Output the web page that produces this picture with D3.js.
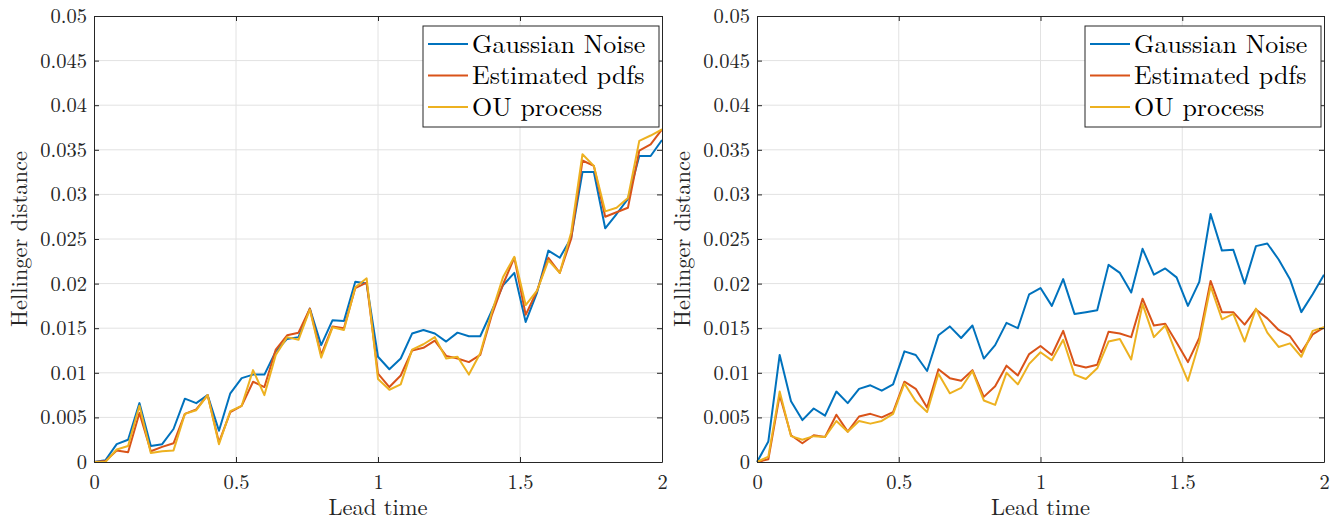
<!DOCTYPE html>
<html>
<head>
<meta charset="utf-8">
<script src="https://cdn.jsdelivr.net/npm/d3@7"></script>
<style>
  body { margin: 0; background: #fff; }
  svg { display: block; }
</style>
</head>
<body>
<svg id="viz" width="1337" height="521"></svg>
<script>
// lead times (x values)
const leadTime = [0, 0.04, 0.08, 0.12, 0.16, 0.2, 0.24, 0.28, 0.32, 0.36, 0.4, 0.44, 0.48, 0.52, 0.56, 0.6,
  0.64, 0.68, 0.72, 0.76, 0.8, 0.84, 0.88, 0.92, 0.96, 1, 1.04, 1.08, 1.12, 1.16, 1.2, 1.24, 1.28, 1.32,
  1.36, 1.4, 1.44, 1.48, 1.52, 1.56, 1.6, 1.64, 1.68, 1.72, 1.76, 1.8, 1.84, 1.88, 1.92, 1.96, 2];

const seriesNames = ["Gaussian Noise", "Estimated pdfs", "OU process"];

// left panel
const leftGauss = [0, 0.0002, 0.002, 0.0025, 0.0066, 0.0018, 0.002, 0.0037, 0.0071, 0.0066, 0.0075, 0.0035,
  0.0077, 0.0094, 0.0098, 0.0098, 0.0124, 0.0138, 0.014, 0.0172, 0.0131, 0.0159, 0.0158, 0.0202, 0.02,
  0.0118, 0.0104, 0.0116, 0.0144, 0.0148, 0.0144, 0.0135, 0.0145, 0.0141, 0.0141, 0.0169, 0.0198, 0.0212,
  0.0157, 0.019, 0.0237, 0.0229, 0.0251, 0.0325, 0.0325, 0.0262, 0.0278, 0.0295, 0.0343, 0.0343, 0.0361];
const leftEst = [0, 0.0001, 0.0013, 0.0011, 0.0055, 0.0012, 0.0017, 0.0021, 0.0054, 0.0059, 0.0075, 0.0022,
  0.0056, 0.0063, 0.009, 0.0084, 0.0126, 0.0142, 0.0145, 0.0172, 0.012, 0.0152, 0.015, 0.0195, 0.0201,
  0.0099, 0.0084, 0.0097, 0.0125, 0.0128, 0.0136, 0.0119, 0.0116, 0.0112, 0.012, 0.0164, 0.0199, 0.0229,
  0.0165, 0.0192, 0.0229, 0.0212, 0.025, 0.0338, 0.0332, 0.0275, 0.028, 0.0285, 0.0349, 0.0356, 0.0373];
const leftOU = [0, 0, 0.0014, 0.0018, 0.0063, 0.001, 0.0012, 0.0013, 0.0054, 0.0058, 0.0075, 0.002,
  0.0057, 0.0063, 0.0103, 0.0075, 0.012, 0.014, 0.0137, 0.0171, 0.0117, 0.0151, 0.0148, 0.0196, 0.0206,
  0.0093, 0.0081, 0.0087, 0.0126, 0.0132, 0.014, 0.0116, 0.0118, 0.0098, 0.0122, 0.0167, 0.0207, 0.023,
  0.0176, 0.0192, 0.0226, 0.0212, 0.0257, 0.0345, 0.0332, 0.0281, 0.0285, 0.0296, 0.036, 0.0366, 0.0373];

// right panel
const rightGauss = [0, 0.0023, 0.012, 0.0068, 0.0047, 0.006, 0.0052, 0.0079, 0.0066, 0.0082, 0.0086, 0.008,
  0.0087, 0.0124, 0.012, 0.0102, 0.0142, 0.0152, 0.0139, 0.0153, 0.0116, 0.0131, 0.0156, 0.015, 0.0188,
  0.0195, 0.0175, 0.0205, 0.0166, 0.0168, 0.017, 0.0221, 0.0212, 0.019, 0.0239, 0.021, 0.0217, 0.0207,
  0.0175, 0.0202, 0.0278, 0.0237, 0.0238, 0.02, 0.0242, 0.0245, 0.0227, 0.0205, 0.0168, 0.0188, 0.021];
const rightEst = [0, 0.0003, 0.0075, 0.003, 0.0021, 0.003, 0.0028, 0.0053, 0.0034, 0.0051, 0.0054, 0.005,
  0.0056, 0.009, 0.0082, 0.0061, 0.0104, 0.0094, 0.0091, 0.0103, 0.0073, 0.0085, 0.0108, 0.0097, 0.0121,
  0.013, 0.012, 0.0147, 0.0109, 0.0106, 0.0109, 0.0146, 0.0144, 0.014, 0.0183, 0.0153, 0.0155, 0.0134,
  0.0112, 0.0139, 0.0203, 0.0168, 0.0168, 0.0154, 0.0171, 0.0161, 0.0148, 0.0141, 0.0123, 0.0143, 0.0151];
const rightOU = [0, 0.0006, 0.0079, 0.0029, 0.0025, 0.0029, 0.0028, 0.0046, 0.0034, 0.0046, 0.0043, 0.0046,
  0.0054, 0.0088, 0.0068, 0.0056, 0.0099, 0.0077, 0.0083, 0.0102, 0.0069, 0.0064, 0.01, 0.0087, 0.011,
  0.0123, 0.0114, 0.0137, 0.0098, 0.0093, 0.0105, 0.0135, 0.0138, 0.0115, 0.0177, 0.014, 0.0153, 0.0121,
  0.0091, 0.0134, 0.0197, 0.016, 0.0166, 0.0135, 0.0172, 0.0145, 0.0129, 0.0133, 0.0118, 0.0147, 0.0151];

const xTicks = [0, 0.5, 1, 1.5, 2];
const yTicks = [0, 0.005, 0.01, 0.015, 0.02, 0.025, 0.03, 0.035, 0.04, 0.045, 0.05];
const xTickLabels = ["0", "0.5", "1", "1.5", "2"];
const yTickLabels = ["0", "0.005", "0.01", "0.015", "0.02", "0.025", "0.03", "0.035", "0.04", "0.045", "0.05"];

const colors = ["#0072BD", "#D95319", "#EDB120"];
const axisColor = "#262626";
const font = '"Latin Modern Roman", "Liberation Serif", serif';

const svg = d3.select("#viz");
const plotTop = 16, plotBottom = 462;

function panel(left, right, data) {
  const x = d3.scaleLinear().domain([0, 2]).range([left, right]);
  const y = d3.scaleLinear().domain([0, 0.05]).range([plotBottom, plotTop]);
  const g = svg.append("g");

  // grid
  g.append("g").selectAll("line").data(xTicks.slice(1, -1)).join("line")
    .attr("x1", d => x(d)).attr("x2", d => x(d)).attr("y1", plotTop).attr("y2", plotBottom)
    .attr("stroke", "#e2e2e2").attr("stroke-width", 1);
  g.append("g").selectAll("line").data(yTicks.slice(1, -1)).join("line")
    .attr("x1", left).attr("x2", right).attr("y1", d => y(d)).attr("y2", d => y(d))
    .attr("stroke", "#e2e2e2").attr("stroke-width", 1);

  // lines
  const line = d3.line().x((d, i) => x(leadTime[i])).y(d => y(d));
  data.forEach((s, k) => {
    g.append("path").datum(s).attr("d", line)
      .attr("fill", "none").attr("stroke", colors[k])
      .attr("stroke-width", 2).attr("stroke-linejoin", "round");
  });

  // axes, ticks pointing inwards on all four sides
  const xb = d3.axisBottom(x).tickValues(xTicks).tickFormat((d, i) => xTickLabels[i])
    .tickSizeInner(-5).tickSizeOuter(0).tickPadding(12);
  const yl = d3.axisLeft(y).tickValues(yTicks).tickFormat((d, i) => yTickLabels[i])
    .tickSizeInner(-5).tickSizeOuter(0).tickPadding(7);
  const xt = d3.axisTop(x).tickValues(xTicks).tickFormat("").tickSizeInner(-5).tickSizeOuter(0);
  const yr = d3.axisRight(y).tickValues(yTicks).tickFormat("").tickSizeInner(-5).tickSizeOuter(0);

  const axes = [
    g.append("g").attr("transform", `translate(0,${plotBottom})`).call(xb),
    g.append("g").attr("transform", `translate(${left},0)`).call(yl),
    g.append("g").attr("transform", `translate(0,${plotTop})`).call(xt),
    g.append("g").attr("transform", `translate(${right},0)`).call(yr)
  ];
  axes.forEach(a => {
    a.attr("font-family", null).attr("font-size", null);
    a.select(".domain").attr("stroke", axisColor);
    a.selectAll(".tick line").attr("stroke", axisColor);
    a.selectAll("text").attr("fill", axisColor)
      .style("font-family", font).style("font-size", "20.5px");
  });

  // axis labels
  g.append("text").attr("x", (left + right) / 2).attr("y", 515)
    .attr("text-anchor", "middle").attr("fill", axisColor)
    .style("font-family", font).style("font-size", "22.5px").text("Lead time");
  g.append("text").attr("transform", `translate(${left - 67},${(plotTop + plotBottom) / 2}) rotate(-90)`)
    .attr("text-anchor", "middle").attr("fill", axisColor)
    .style("font-family", font).style("font-size", "22.5px").text("Hellinger distance");

  // legend
  const lx = right - 239, ly = 26, lw = 236, lh = 101;
  const leg = g.append("g");
  leg.append("rect").attr("x", lx).attr("y", ly).attr("width", lw).attr("height", lh)
    .attr("fill", "#fff").attr("stroke", axisColor).attr("stroke-width", 1);
  seriesNames.forEach((name, k) => {
    const ry = ly + 18 + k * 31.5;
    leg.append("line").attr("x1", lx + 5).attr("x2", lx + 45).attr("y1", ry).attr("y2", ry)
      .attr("stroke", colors[k]).attr("stroke-width", 2);
    leg.append("text").attr("x", lx + 49).attr("y", ry).attr("dy", "0.33em")
      .attr("fill", "#000").style("font-family", font).style("font-size", "26px").text(name);
  });
}

panel(94, 662, [leftGauss, leftEst, leftOU]);
panel(757, 1324, [rightGauss, rightEst, rightOU]);
</script>
</body>
</html>
